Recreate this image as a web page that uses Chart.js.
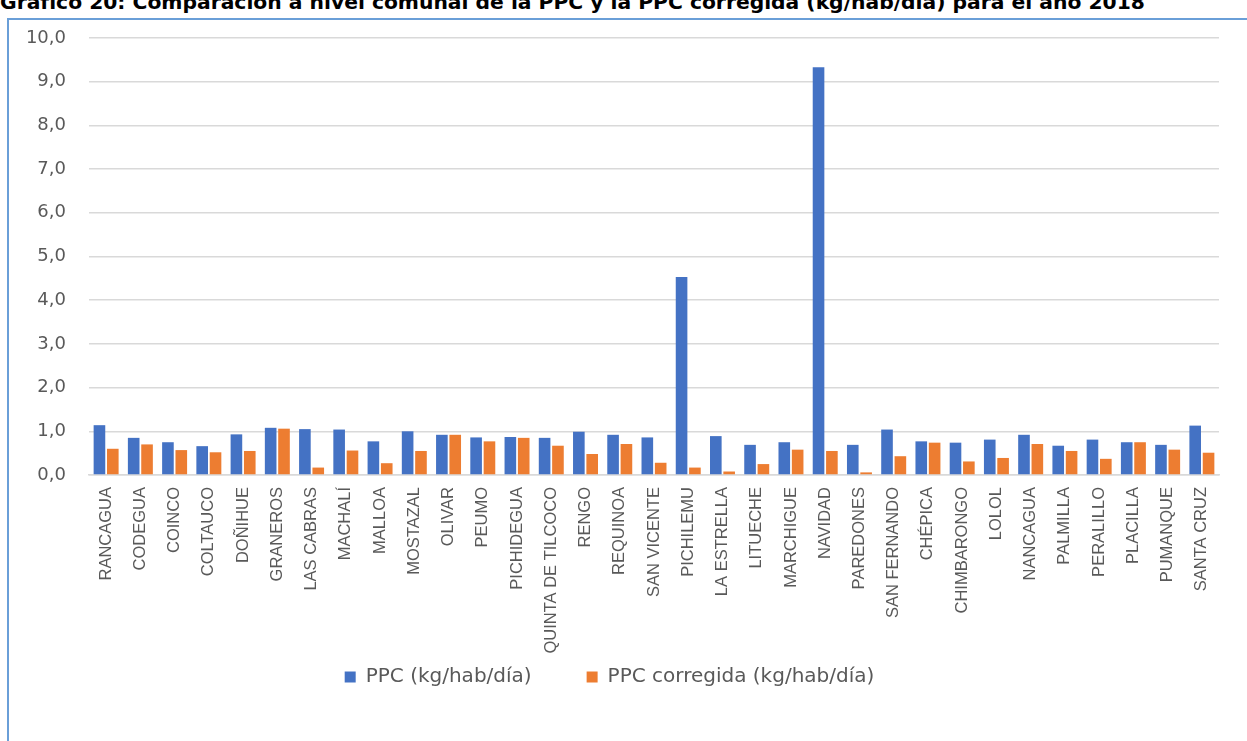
<!DOCTYPE html>
<html lang="es">
<head>
<meta charset="utf-8">
<title>PPC por comuna 2018</title>
<script src="https://cdn.jsdelivr.net/npm/chart.js@4/dist/chart.umd.min.js"></script>
<style>
  html, body { margin: 0; padding: 0; background: #fff; overflow: hidden; }
  #wrap { position: relative; width: 1247px; height: 741px; }
  #titulo {
    position: absolute; left: 0; top: -8px; white-space: nowrap;
    font-family: "DejaVu Sans", sans-serif; font-weight: bold; font-size: 20.3px;
    line-height: 1; color: #000;
  }
  #marco {
    position: absolute; left: 7px; top: 18px; width: 1260px; height: 760px;
    border-left: 2px solid #6a9fd8; border-top: 2px solid #6a9fd8;
    box-sizing: border-box;
  }
  canvas { position: absolute; left: 0; top: 0; }
</style>
</head>
<body>
<div id="wrap">
  <div id="titulo">Gráfico 20: Comparación a nivel comunal de la PPC y la PPC corregida (kg/hab/día) para el año 2018</div>
  <div id="marco"></div>
  <canvas id="grafico" width="1247" height="741"></canvas>
</div>
<script>
// comunas de la región
const comunas = [
  'RANCAGUA', 'CODEGUA', 'COINCO', 'COLTAUCO', 'DOÑIHUE', 'GRANEROS', 'LAS CABRAS',
  'MACHALÍ', 'MALLOA', 'MOSTAZAL', 'OLIVAR', 'PEUMO', 'PICHIDEGUA', 'QUINTA DE TILCOCO',
  'RENGO', 'REQUINOA', 'SAN VICENTE', 'PICHILEMU', 'LA ESTRELLA', 'LITUECHE', 'MARCHIGUE',
  'NAVIDAD', 'PAREDONES', 'SAN FERNANDO', 'CHÉPICA', 'CHIMBARONGO', 'LOLOL', 'NANCAGUA',
  'PALMILLA', 'PERALILLO', 'PLACILLA', 'PUMANQUE', 'SANTA CRUZ'
];

const ppc = [
  1.14, 0.85, 0.75, 0.66, 0.93, 1.08, 1.05, 1.04, 0.77, 1.00, 0.92, 0.86, 0.87, 0.85,
  0.99, 0.92, 0.86, 4.53, 0.89, 0.69, 0.75, 9.33, 0.69, 1.04, 0.77, 0.74, 0.81, 0.92,
  0.67, 0.81, 0.75, 0.69, 1.13
];

const ppcCorregida = [
  0.60, 0.70, 0.57, 0.52, 0.55, 1.06, 0.17, 0.56, 0.27, 0.55, 0.92, 0.77, 0.85, 0.67,
  0.48, 0.71, 0.28, 0.17, 0.08, 0.25, 0.58, 0.55, 0.06, 0.43, 0.74, 0.31, 0.39, 0.71,
  0.55, 0.37, 0.75, 0.58, 0.51
];

const ticksY = ['0,0', '1,0', '2,0', '3,0', '4,0', '5,0', '6,0', '7,0', '8,0', '9,0', '10,0'];

const gris = '#595959';
const sepLeyenda = 55;
const fuenteLeyenda = 20;

// alto fijo de la leyenda y la subimos para que quede como en el original
const ajusteLeyenda = {
  id: 'ajusteLeyenda',
  afterInit(chart) {
    const ley = chart.legend;
    const fitOrig = ley.fit.bind(ley);
    ley.fit = function () {
      fitOrig();
      this.height = 74;
    };
  },
  afterLayout(chart) {
    const ley = chart.legend;
    const alto = ley.height;
    ley.top = 677 - sepLeyenda - fuenteLeyenda / 2;
    ley.bottom = ley.top + alto;
  }
};

const ctx = document.getElementById('grafico').getContext('2d');
new Chart(ctx, {
  type: 'bar',
  data: {
    labels: comunas,
    datasets: [
      {
        label: 'PPC (kg/hab/día)',
        data: ppc,
        backgroundColor: '#4472c4',
        categoryPercentage: 0.78,
        barPercentage: 0.87
      },
      {
        label: 'PPC corregida (kg/hab/día)',
        data: ppcCorregida,
        backgroundColor: '#ed7d31',
        categoryPercentage: 0.78,
        barPercentage: 0.87
      }
    ]
  },
  plugins: [ajusteLeyenda],
  options: {
    responsive: false,
    animation: false,
    layout: { padding: { left: 0, right: 28, top: 38, bottom: 0 } },
    plugins: {
      tooltip: { enabled: false },
      legend: {
        position: 'bottom',
        labels: {
          boxWidth: 11,
          boxHeight: 11,
          padding: sepLeyenda,
          color: gris,
          font: { family: 'DejaVu Sans', size: fuenteLeyenda }
        }
      }
    },
    scales: {
      y: {
        min: 0,
        max: 10,
        afterFit: s => { s.width = 89; },
        border: { display: false },
        grid: { color: '#d9d9d9', lineWidth: 1.5, drawTicks: false },
        ticks: {
          stepSize: 1,
          padding: 23,
          color: gris,
          font: { family: 'DejaVu Sans', size: 18 },
          callback: (v, i) => ticksY[i]
        }
      },
      x: {
        afterFit: s => { s.height = 192; },
        border: { color: '#d9d9d9', width: 1.5 },
        grid: { display: false, drawTicks: false },
        ticks: {
          minRotation: 90,
          maxRotation: 90,
          autoSkip: false,
          padding: 12,
          color: gris,
          font: { family: 'Liberation Sans', size: 16.5 }
        }
      }
    }
  }
});
</script>
</body>
</html>
